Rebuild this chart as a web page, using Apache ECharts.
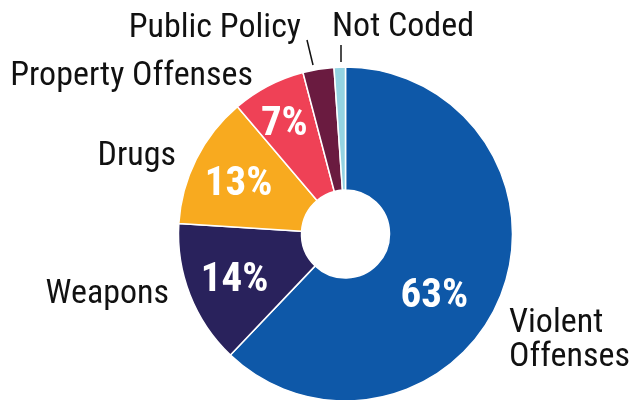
<!DOCTYPE html>
<html>
<head>
<meta charset="utf-8">
<script src="https://cdn.jsdelivr.net/npm/echarts@6/dist/echarts.min.js"></script>
<style>
html,body{margin:0;padding:0;background:#fff;}
#chart{width:639px;height:400px;}
</style>
</head>
<body>
<div id="chart"></div>
<script>
const categories = ['Violent Offenses', 'Weapons', 'Drugs', 'Property Offenses', 'Public Policy', 'Not Coded'];
const nameLabels = ['Violent\nOffenses', 'Weapons', 'Drugs', 'Property Offenses', 'Public Policy', 'Not Coded'];
const values = [62.1, 13.9, 12.8, 7.1, 3.0, 1.1];
const pctLabels = ['63%', '14%', '13%', '7%', '', ''];
const colors = ['#0e58a8', '#29225c', '#f8aa1f', '#ef4156', '#6a1b40', '#94d3e2'];

// label styling / placement
const pctOffsets = [[-12, 22], [-10, 7], [-10, -1], [-11, -13], [0, 0], [0, 0]];
const namePos = [
  {x: 509, y: 340, align: 'left'},
  {x: 169, y: 294, align: 'right'},
  {x: 176, y: 156, align: 'right'},
  {x: 253, y: 76, align: 'right'},
  {x: 301, y: 28, align: 'right'},
  {x: 332, y: 27, align: 'left'}
];
const leaderLines = [null, null, null, null, [[313, 65], [307, 40]], [[341, 62], [341, 45]]];

const FONT = '"Roboto Condensed", "DejaVu Sans Condensed", sans-serif';
const center = [345.5, 234];
const radius = [44, 167];

const chart = echarts.init(document.getElementById('chart'), null, {renderer: 'canvas'});
chart.setOption({
  animation: false,
  series: [
    {
      type: 'pie',
      center: center,
      radius: radius,
      startAngle: 90,
      clockwise: true,
      avoidLabelOverlap: false,
      silent: true,
      itemStyle: {borderColor: '#fff', borderWidth: 1.5},
      label: {
        show: true,
        position: 'inside',
        color: '#fff',
        fontFamily: FONT,
        fontWeight: 'bold',
        fontSize: 41,
        formatter: p => pctLabels[p.dataIndex]
      },
      labelLine: {show: false},
      data: categories.map((c, i) => ({
        name: c,
        value: values[i],
        itemStyle: {color: colors[i]},
        label: {offset: pctOffsets[i]}
      }))
    },
    {
      type: 'pie',
      center: center,
      radius: radius,
      startAngle: 90,
      clockwise: true,
      avoidLabelOverlap: false,
      silent: true,
      z: 3,
      itemStyle: {color: 'rgba(0,0,0,0)', borderWidth: 0},
      label: {
        show: true,
        position: 'outside',
        color: '#111',
        fontFamily: FONT,
        fontSize: 34,
        lineHeight: 34,
        formatter: p => nameLabels[p.dataIndex]
      },
      labelLine: {show: true, lineStyle: {color: '#111', width: 1.5}},
      labelLayout: function (params) {
        const i = params.dataIndex;
        const pos = namePos[i];
        const res = {x: pos.x, y: pos.y, align: pos.align, verticalAlign: 'middle'};
        if (leaderLines[i]) res.labelLinePoints = [leaderLines[i][0], leaderLines[i][1], leaderLines[i][1]];
        return res;
      },
      data: categories.map((c, i) => ({
        name: c,
        value: values[i],
        labelLine: {show: !!leaderLines[i]}
      }))
    }
  ]
});
</script>
</body>
</html>
